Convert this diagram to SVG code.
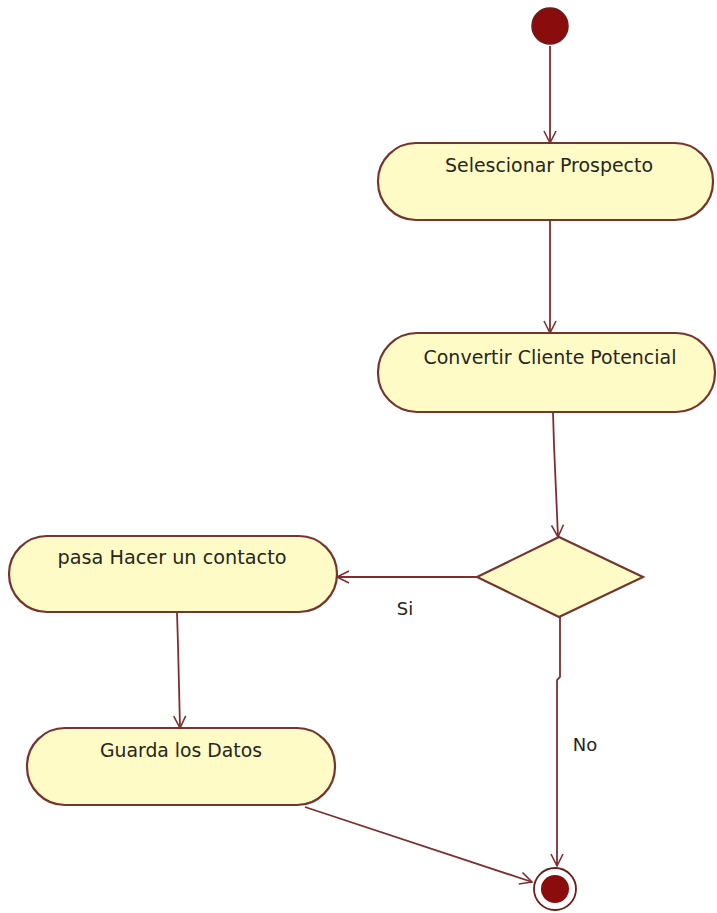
<svg xmlns="http://www.w3.org/2000/svg" width="717" height="913" viewBox="0 0 717 913">
<style>
.act{fill:#fffbc6;stroke:#74352e;stroke-width:2.2}
.lbl{font-family:"DejaVu Sans",Tahoma,sans-serif;font-size:19px;fill:#26261c;text-anchor:middle}
.edge{fill:none;stroke:#7d2f2f;stroke-width:1.8;marker-end:url(#arr)}
</style>
<defs>
<marker id="arr" markerUnits="userSpaceOnUse" markerWidth="16" markerHeight="16" refX="13" refY="7" orient="auto">
<path d="M1,1 L13,7 L1,13" fill="none" stroke="#7d2f2f" stroke-width="1.6"/>
</marker>
</defs>
<rect width="717" height="913" fill="#ffffff"/>
<g id="edges">
<line class="edge" x1="550" y1="46" x2="550" y2="143"/>
<line class="edge" x1="550" y1="220" x2="550" y2="333"/>
<polyline class="edge" points="553,412 554,445 558,537"/>
<line class="edge" x1="477" y1="577" x2="337" y2="577"/>
<polyline class="edge" points="560,617 560,677 557,680 557,866"/>
<polyline class="edge" points="177,612 178,645 180,728"/>
<line class="edge" x1="305" y1="807" x2="532" y2="882"/>
<text class="lbl" x="405" y="615" style="font-size:18px">Si</text>
<text class="lbl" x="585" y="751" style="font-size:18px">No</text>
</g>
<g id="start">
<circle cx="550" cy="26" r="18" fill="#8a0c0c" stroke="#6b1c1c" stroke-width="1.5"/>
</g>
<g id="selescionar">
<rect class="act" x="378" y="143" width="335" height="77" rx="38" ry="38"/>
<text class="lbl" x="549" y="172" textLength="208" lengthAdjust="spacingAndGlyphs">Selescionar Prospecto</text>
</g>
<g id="convertir">
<rect class="act" x="378" y="333" width="337" height="79" rx="39" ry="39"/>
<text class="lbl" x="550" y="364" textLength="253" lengthAdjust="spacingAndGlyphs">Convertir Cliente Potencial</text>
</g>
<g id="decision">
<polygon points="559,537 643,577 559,617 477,577" fill="#fffbc6" stroke="#74352e" stroke-width="2.2"/>
</g>
<g id="contacto">
<rect class="act" x="9" y="536" width="328" height="76" rx="38" ry="38"/>
<text class="lbl" x="172" y="564" textLength="229" lengthAdjust="spacingAndGlyphs">pasa Hacer un contacto</text>
</g>
<g id="guarda">
<rect class="act" x="27" y="728" width="308" height="77" rx="38" ry="38"/>
<text class="lbl" x="181" y="757" textLength="162" lengthAdjust="spacingAndGlyphs">Guarda los Datos</text>
</g>
<g id="end">
<circle cx="555" cy="889" r="21" fill="#ffffff" stroke="#6b1c1c" stroke-width="1.8"/>
<circle cx="555" cy="889" r="14" fill="#8a0c0c"/>
</g>
</svg>
